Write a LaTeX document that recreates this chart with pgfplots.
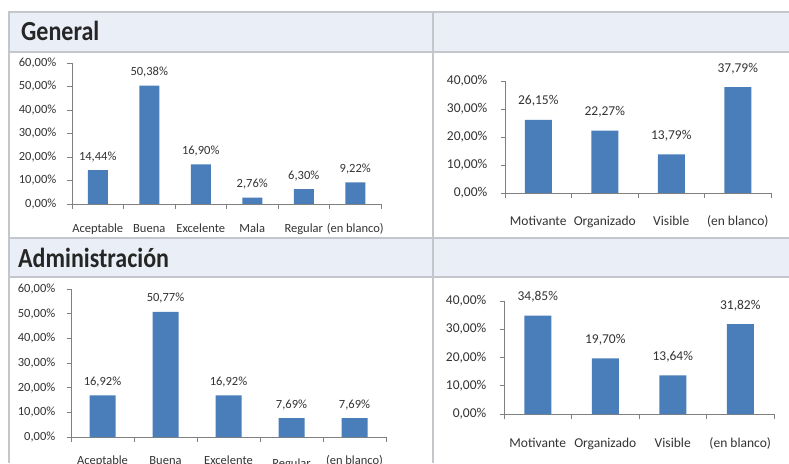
\documentclass[border=0pt]{standalone}
\usepackage{pgfplots}
\pgfplotsset{compat=1.18}
\usepackage{fontspec}
\setmainfont{Carlito}
\usepackage{graphicx}

\definecolor{barblue}{HTML}{4A7EBB}
\definecolor{gridgray}{HTML}{C3C6CB}
\definecolor{hdrfill}{HTML}{EAEEF7}
\definecolor{axisgray}{HTML}{808080}
\definecolor{txt}{HTML}{333333}

\pgfplotsset{
  cell/.style={
    scale only axis, anchor=south west, ybar, clip=false,
    ymin=0, xmin=-0.5,
    axis x line*=bottom, axis y line*=left,
    axis line style={draw=axisgray, line width=0.9pt, -},
    tick align=outside, major tick length=4.5pt, minor tick length=5pt,
    tick style={draw=axisgray, line width=0.9pt},
    major x tick style={draw=none},
    yticklabel={\pgfmathprintnumber[fixed,fixed zerofill,precision=2,use comma,assume math mode=true]{\tick}\%},
    tick label style={text=txt},
    yticklabel style={anchor=east, inner sep=0pt},
    xticklabel style={anchor=base, inner sep=0pt},
    nodes near coords={\pgfmathprintnumber[fixed,fixed zerofill,precision=2,use comma,assume math mode=true]{\pgfplotspointmeta}\%},
    every node near coord/.append style={text=txt, anchor=base, inner sep=0pt},
  },
  small/.style={
    tick label style={font=\fontsize{12.5}{13}\selectfont},
    every node near coord/.append style={font=\fontsize{12.5}{13}\selectfont, yshift=10pt},
    yticklabel style={xshift=-11pt},
  },
  big/.style={
    tick label style={font=\fontsize{13.5}{14}\selectfont},
    every node near coord/.append style={font=\fontsize{13.5}{14}\selectfont, yshift=15pt},
    yticklabel style={xshift=-13pt},
  },
}

\begin{document}
\begin{tikzpicture}[x=1pt,y=1pt]
\useasboundingbox (0,0) rectangle (789,463);
\clip (0,0) rectangle (789,463);
\fill[white] (0,0) rectangle (789,463);

% header rows
\fill[hdrfill] (9,451) rectangle (789,411);
\fill[hdrfill] (9,225) rectangle (789,186);
\foreach \yy in {451,411,225,186}
  \draw[gridgray, line width=2pt] (9,\yy) -- (789,\yy);
\draw[gridgray, line width=2pt] (9,452) -- (9,0);
\draw[gridgray, line width=2pt] (433,452) -- (433,0);

\node[anchor=base west, inner sep=0pt, text=black!85] at (21,422.5)
  {\scalebox{1}[1.15]{\fontsize{24}{24}\selectfont\bfseries General}};
\node[anchor=base west, inner sep=0pt, text=black!85] at (18,195.5)
  {\scalebox{1}[1.15]{\fontsize{24}{24}\selectfont\bfseries Administración}};

% General - left
\begin{axis}[cell, small,
  at={(72pt,259pt)}, width=309pt, height=141pt,
  xmax=5.5, ymax=60, ytick={0,10,...,60},
  xtick={0,...,5},
  xticklabels={Aceptable,Buena,Excelente,Mala,Regular,(en blanco)},
  minor xtick={-0.5,0.5,...,5.5},
  xticklabel style={yshift=-24pt}]
\addplot[fill=barblue, draw=none, bar width=20pt]
  coordinates {(0,14.44) (1,50.38) (2,16.90) (3,2.76) (4,6.30) (5,9.22)};
\end{axis}

% General - right
\begin{axis}[cell, big,
  at={(505pt,270pt)}, width=266pt, height=112pt,
  xmax=3.5, ymax=40, ytick={0,10,...,40},
  xtick={0,...,3},
  xticklabels={Motivante,Organizado,Visible,(en blanco)},
  minor xtick={-0.5,0.5,...,3.5},
  xticklabel style={yshift=-28pt}]
\addplot[fill=barblue, draw=none, bar width=27pt]
  coordinates {(0,26.15) (1,22.27) (2,13.79) (3,37.79)};
\end{axis}

% Administracion - left
\begin{axis}[cell, small,
  at={(71pt,26pt)}, width=315pt, height=148pt,
  xmax=4.5, ymax=60, ytick={0,10,...,60},
  xtick={0,...,4},
  xticklabels={Aceptable,Buena,Excelente,\raisebox{-3pt}{Regular},(en blanco)},
  minor xtick={-0.5,0.5,...,4.5},
  xticklabel style={yshift=-23pt}]
\addplot[fill=barblue, draw=none, bar width=26pt]
  coordinates {(0,16.92) (1,50.77) (2,16.92) (3,7.69) (4,7.69)};
\end{axis}

% Administracion - right
\begin{axis}[cell, big,
  at={(504pt,49pt)}, width=270pt, height=113pt,
  xmax=3.5, ymax=40, ytick={0,10,...,40},
  xtick={0,...,3},
  xticklabels={Motivante,Organizado,Visible,(en blanco)},
  minor xtick={-0.5,0.5,...,3.5},
  xticklabel style={yshift=-29pt}]
\addplot[fill=barblue, draw=none, bar width=27pt]
  coordinates {(0,34.85) (1,19.70) (2,13.64) (3,31.82)};
\end{axis}
\end{tikzpicture}
\end{document}
